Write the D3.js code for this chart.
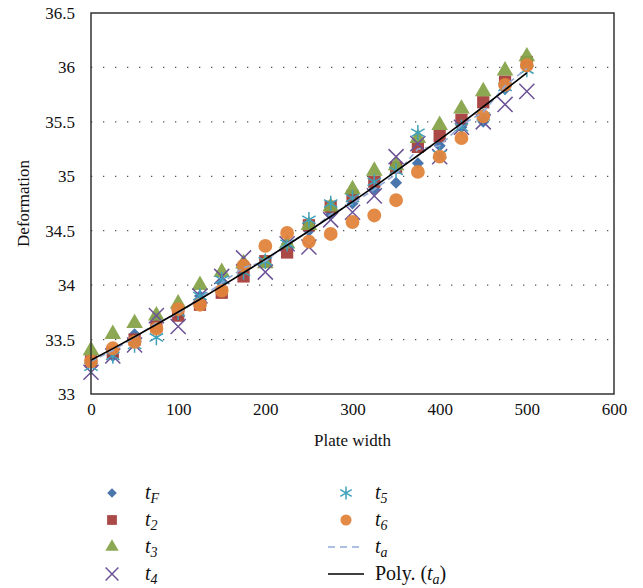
<!DOCTYPE html>
<html>
<head>
<meta charset="utf-8">
<script src="https://cdn.jsdelivr.net/npm/d3@7"></script>
<style>
  body { margin: 0; background: #fff; }
  svg text { font-family: 'Liberation Serif', 'DejaVu Serif', serif; fill: #111; }
</style>
</head>
<body>
<div class="chart"></div>
<script>
// plate width positions
const widths = [0, 25, 50, 75, 100, 125, 150, 175, 200, 225, 250, 275, 300, 325, 350, 375, 400, 425, 450, 475, 500]

const tF = [33.3, 33.35, 33.55, 33.7, 33.72, 33.9, 34.02, 34.15, 34.23, 34.38, 34.5, 34.65, 34.75, 34.88, 34.94, 35.12, 35.28, 35.45, 35.5, 35.8, 36.0]
const t2 = [33.3, 33.38, 33.5, 33.62, 33.72, 33.82, 33.93, 34.08, 34.22, 34.3, 34.55, 34.72, 34.82, 34.95, 35.08, 35.27, 35.37, 35.52, 35.68, 35.87, 36.05]
const t3 = [33.4, 33.55, 33.65, 33.72, 33.83, 34.0, 34.12, 34.2, 34.2, 34.38, 34.55, 34.72, 34.88, 35.05, 35.1, 35.35, 35.47, 35.62, 35.78, 35.97, 36.1]
const t4 = [33.2, 33.35, 33.45, 33.72, 33.62, 33.9, 34.08, 34.25, 34.12, 34.38, 34.35, 34.6, 34.67, 34.82, 35.18, 35.3, 35.18, 35.45, 35.5, 35.66, 35.78]
const t5 = [33.25, 33.35, 33.45, 33.52, 33.75, 33.9, 34.05, 34.12, 34.22, 34.38, 34.6, 34.75, 34.8, 34.95, 35.05, 35.4, 35.2, 35.45, 35.55, 35.82, 35.98]
const t6 = [33.3, 33.42, 33.48, 33.6, 33.78, 33.82, 33.95, 34.18, 34.36, 34.48, 34.4, 34.47, 34.58, 34.64, 34.78, 35.04, 35.18, 35.35, 35.55, 35.84, 36.02]
const ta = [33.3, 33.4, 33.52, 33.65, 33.74, 33.88, 34.02, 34.16, 34.22, 34.38, 34.49, 34.65, 34.75, 34.88, 35.02, 35.25, 35.28, 35.47, 35.59, 35.83, 35.99]

const xTicks = [0, 100, 200, 300, 400, 500, 600]
const yTicks = [33, 33.5, 34, 34.5, 35, 35.5, 36, 36.5]

const seriesNames = ['tF', 't2', 't3', 't4', 't5', 't6']
const seriesData = [tF, t2, t3, t4, t5, t6]
const seriesColors = ['#3f6fa8', '#a63f3c', '#86a34a', '#6b5296', '#3fa1bb', '#e0843c']
const seriesShapes = ['diamond', 'square', 'triangle', 'cross', 'star', 'circle']
const legendSubs = ['F', '2', '3', '4', '5', '6']

const margin = { left: 91, top: 13, right: 29, bottom: 194 }
const W = 643
const H = 588
const width = W - margin.left - margin.right
const height = H - margin.top - margin.bottom

const svg = d3.select('.chart').append('svg')
  .attr('width', W)
  .attr('height', H)

const x = d3.scaleLinear().domain([0, 600]).range([0, width])
const y = d3.scaleLinear().domain([33, 36.5]).range([height, 0])

const g = svg.append('g').attr('transform', `translate(${margin.left},${margin.top})`)

// dotted gridlines
g.selectAll('.grid')
  .data(yTicks.filter((d) => d > 33 && d < 36.5))
  .enter()
  .append('line')
  .attr('x1', 0)
  .attr('x2', width)
  .attr('y1', (d) => y(d))
  .attr('y2', (d) => y(d))
  .attr('stroke', '#555')
  .attr('stroke-width', 1.3)
  .attr('stroke-dasharray', '1.3,10.7')

// axes
const xAxis = g.append('g')
  .attr('transform', `translate(0,${height})`)
  .call(d3.axisBottom(x).tickValues(xTicks).tickSize(0).tickPadding(9).tickFormat(d3.format('d')))
xAxis.select('.domain').remove()
xAxis.selectAll('text').attr('font-size', 17).style('font-family', "'Liberation Serif', serif")

const yAxis = g.append('g')
  .call(d3.axisLeft(y).tickValues(yTicks).tickSize(0).tickPadding(16).tickFormat((d) => d3.format('')(d)))
yAxis.select('.domain').remove()
yAxis.selectAll('text').attr('font-size', 17).style('font-family', "'Liberation Serif', serif")

// markers
const symbolFor = {
  diamond: d3.symbol().type(d3.symbolSquare).size(72),
  square: d3.symbol().type(d3.symbolSquare).size(150),
  triangle: d3.symbol().type(d3.symbolTriangle).size(120),
  circle: d3.symbol().type(d3.symbolCircle).size(150),
  cross: d3.symbol().type(d3.symbolX).size(150),
  star: d3.symbol().type(d3.symbolAsterisk).size(170)
}

function drawMarker (sel, shape, color, scale = 1) {
  const p = sel.append('path').attr('d', symbolFor[shape]())
  const rot = shape === 'diamond' ? ' rotate(45)' : ''
  p.attr('transform', `scale(${scale})${rot}`)
  if (shape === 'cross' || shape === 'star') {
    p.attr('fill', 'none').attr('stroke', color).attr('stroke-width', 1.5 / scale)
  } else {
    p.attr('fill', color).attr('opacity', 0.95)
  }
  return p
}

seriesData.forEach((vals, si) => {
  const layer = g.append('g').attr('class', `series-${seriesNames[si]}`)
  vals.forEach((v, i) => {
    const m = layer.append('g').attr('transform', `translate(${x(widths[i])},${y(v)})`)
    drawMarker(m, seriesShapes[si], seriesColors[si])
  })
})

// t_a dashed line
const line = d3.line().x((d) => x(d[0])).y((d) => y(d[1]))
g.append('path')
  .datum(widths.map((w, i) => [w, ta[i]]))
  .attr('d', line)
  .attr('fill', 'none')
  .attr('stroke', '#93aad6')
  .attr('stroke-width', 1.6)
  .attr('stroke-dasharray', '6,4')

// Poly. (t_a): quadratic least squares fit of t_a
function polyFit (xs, ys) {
  const n = xs.length
  const s = [0, 0, 0, 0, 0]
  const t = [0, 0, 0]
  for (let i = 0; i < n; i++) {
    for (let k = 0; k < 5; k++) s[k] += Math.pow(xs[i], k)
    for (let k = 0; k < 3; k++) t[k] += ys[i] * Math.pow(xs[i], k)
  }
  const A = [[s[0], s[1], s[2], t[0]], [s[1], s[2], s[3], t[1]], [s[2], s[3], s[4], t[2]]]
  for (let c = 0; c < 3; c++) {
    for (let r = c + 1; r < 3; r++) {
      const f = A[r][c] / A[c][c]
      for (let k = c; k < 4; k++) A[r][k] -= f * A[c][k]
    }
  }
  const coef = [0, 0, 0]
  for (let r = 2; r >= 0; r--) {
    let v = A[r][3]
    for (let k = r + 1; k < 3; k++) v -= A[r][k] * coef[k]
    coef[r] = v / A[r][r]
  }
  return coef
}
const coef = polyFit(widths, ta)
g.append('path')
  .datum(widths.map((w) => [w, coef[0] + coef[1] * w + coef[2] * w * w]))
  .attr('d', line.curve(d3.curveMonotoneX))
  .attr('fill', 'none')
  .attr('stroke', '#000')
  .attr('stroke-width', 1.6)

// plot frame
g.append('rect')
  .attr('width', width)
  .attr('height', height)
  .attr('fill', 'none')
  .attr('stroke', '#333')
  .attr('stroke-width', 1.5)

// axis titles
svg.append('text')
  .attr('transform', `translate(29,${margin.top + height / 2}) rotate(-90)`)
  .attr('text-anchor', 'middle')
  .attr('font-size', 17)
  .text('Deformation')

svg.append('text')
  .attr('x', margin.left + x(300))
  .attr('y', 446)
  .attr('text-anchor', 'middle')
  .attr('font-size', 17)
  .text('Plate width')

// legend
const legendItems = seriesNames.map((n, i) => ({ kind: 'marker', shape: seriesShapes[i], color: seriesColors[i], sub: legendSubs[i] }))
legendItems.push({ kind: 'dash', color: '#93aad6', sub: 'a' })
legendItems.push({ kind: 'poly', color: '#000', sub: 'a' })

const legendPos = [
  [112, 493], [112, 520], [112, 547], [112, 574],
  [346, 493], [346, 520], [346, 547], [346, 574]
]

legendItems.forEach((item, i) => {
  const [lx, ly] = legendPos[i]
  const lg = svg.append('g').attr('transform', `translate(${lx},${ly})`)
  if (item.kind === 'marker') {
    drawMarker(lg, item.shape, item.color, item.shape === 'cross' || item.shape === 'star' ? 0.85 : 0.8)
  } else {
    lg.append('line')
      .attr('x1', -18).attr('x2', 18)
      .attr('stroke', item.color)
      .attr('stroke-width', 1.6)
      .attr('stroke-dasharray', item.kind === 'dash' ? '7,5' : null)
  }
  const tx = i < 4 ? 145 : 375
  const t = svg.append('text')
    .attr('x', tx)
    .attr('y', ly + 6)
    .attr('font-size', 20)
  if (item.kind === 'poly') {
    t.append('tspan').text('Poly. (')
    t.append('tspan').attr('font-style', 'italic').text('t')
    t.append('tspan').attr('font-style', 'italic').attr('font-size', 14).attr('dy', 4).text('a')
    t.append('tspan').attr('dy', -4).text(')')
  } else {
    t.append('tspan').attr('font-style', 'italic').text('t')
    t.append('tspan').attr('font-style', 'italic').attr('font-size', 14).attr('dy', 4).text(item.sub)
  }
})
</script>
</body>
</html>
